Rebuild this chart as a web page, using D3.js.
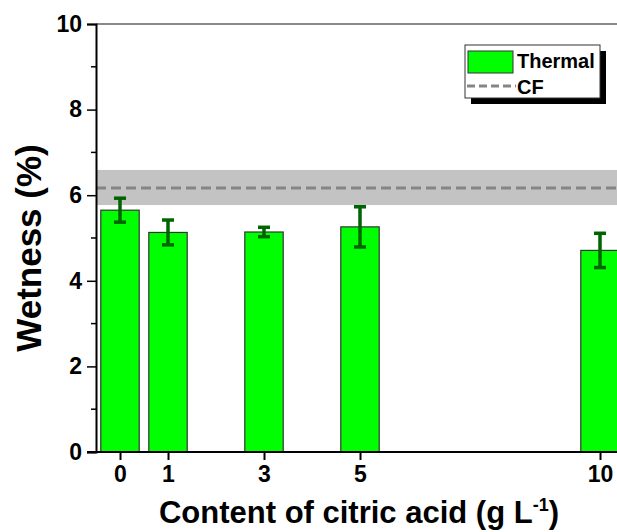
<!DOCTYPE html>
<html>
<head>
<meta charset="utf-8">
<script src="https://cdn.jsdelivr.net/npm/d3@7"></script>
<style>
  body { margin: 0; background: #fff; }
  svg { display: block; font-family: "Liberation Sans", Arial, sans-serif; font-weight: bold; }
</style>
</head>
<body>
<div id="chart"></div>
<script>
// citric acid content (g/L), wetness (%) and its error
const contents = [0, 1, 3, 5, 10]
const wetness = [5.65, 5.13, 5.14, 5.26, 4.71]
const wetnessErr = [0.28, 0.29, 0.11, 0.47, 0.40]
const cfMean = 6.17
const cfBand = [5.77, 6.59]
const xTicks = [0, 1, 3, 5, 10]
const yTicks = [0, 2, 4, 6, 8, 10]
const yMinor = [1, 3, 5, 7, 9]

const W = 617, H = 532
const svg = d3.select("#chart").append("svg")
    .attr("width", W)
    .attr("height", H)

const x = d3.scaleLinear().domain([-0.5, 10.5]).range([96, 624])
const y = d3.scaleLinear().domain([0, 10]).range([452, 24])
const barW = x(0.8) - x(0)

// CF band + mean line
svg.append("rect")
    .attr("x", x(-0.5))
    .attr("y", y(cfBand[1]))
    .attr("width", x(10.5) - x(-0.5))
    .attr("height", y(cfBand[0]) - y(cfBand[1]))
    .attr("fill", "#c3c3c3")
svg.append("line")
    .attr("x1", x(-0.5)).attr("x2", x(10.5))
    .attr("y1", y(cfMean)).attr("y2", y(cfMean))
    .attr("stroke", "#858585")
    .attr("stroke-width", 3)
    .attr("stroke-dasharray", "10,5")

// top frame line
svg.append("line")
    .attr("x1", x(-0.5)).attr("x2", x(10.5))
    .attr("y1", y(10)).attr("y2", y(10))
    .attr("stroke", "#8a8a8a")
    .attr("stroke-width", 2)

// bars
svg.append("g").selectAll("rect")
    .data(contents)
    .join("rect")
    .attr("x", (d, i) => x(d) - barW / 2)
    .attr("y", (d, i) => y(wetness[i]))
    .attr("width", barW)
    .attr("height", (d, i) => y(0) - y(wetness[i]))
    .attr("fill", "#00ff00")
    .attr("stroke", "#333")
    .attr("stroke-width", 1.2)

// error bars
const err = svg.append("g")
    .attr("stroke", "#006400")
    .attr("stroke-width", 3.5)
contents.forEach((d, i) => {
    const lo = y(wetness[i] - wetnessErr[i]), hi = y(wetness[i] + wetnessErr[i])
    err.append("line").attr("x1", x(d)).attr("x2", x(d)).attr("y1", lo).attr("y2", hi)
    err.append("line").attr("x1", x(d) - 6).attr("x2", x(d) + 6).attr("y1", lo).attr("y2", lo)
    err.append("line").attr("x1", x(d) - 6).attr("x2", x(d) + 6).attr("y1", hi).attr("y2", hi)
})

// y axis
const yAxis = svg.append("g")
    .attr("transform", "translate(" + x(-0.5) + ",0)")
    .call(d3.axisLeft(y).tickValues(yTicks).tickSize(9).tickPadding(5))
yAxis.select(".domain").attr("stroke-width", 2)
yAxis.selectAll(".tick line").attr("stroke-width", 1.5)
yAxis.selectAll(".tick text")
    .attr("font-size", 23).attr("font-weight", "bold").attr("fill", "#000")
yAxis.selectAll(".minor")
    .data(yMinor)
    .join("line")
    .attr("class", "minor")
    .attr("x1", -5).attr("x2", 0)
    .attr("y1", d => y(d)).attr("y2", d => y(d))
    .attr("stroke", "#000")
    .attr("stroke-width", 1.5)

// x axis
const xAxis = svg.append("g")
    .attr("transform", "translate(0," + y(0) + ")")
    .call(d3.axisBottom(x).tickValues(xTicks).tickSize(8).tickPadding(6))
xAxis.select(".domain").attr("d", "M" + (x(-0.5) - 9) + ",0H" + x(10.5)).attr("stroke-width", 2)
xAxis.selectAll(".tick line").attr("stroke-width", 2)
xAxis.selectAll(".tick text")
    .attr("font-size", 23).attr("font-weight", "bold").attr("fill", "#000")

// axis titles
const xt = svg.append("text")
    .attr("x", 359)
    .attr("y", 523)
    .attr("text-anchor", "middle")
    .style("font-size", "31px")
xt.append("tspan").text("Content of citric acid (g L")
xt.append("tspan").attr("dy", -12).style("font-size", "18px").text("-1")
xt.append("tspan").attr("dy", 12).text(")")

svg.append("text")
    .attr("transform", "translate(41,248) rotate(-90)")
    .attr("text-anchor", "middle")
    .style("font-size", "35px")
    .text("Wetness (%)")

// legend
const lg = svg.append("g")
lg.append("rect").attr("x", 471).attr("y", 51).attr("width", 135).attr("height", 53).attr("fill", "#000")
lg.append("rect").attr("x", 465).attr("y", 45).attr("width", 135).attr("height", 53)
    .attr("fill", "#fff").attr("stroke", "#333").attr("stroke-width", 1)
lg.append("rect").attr("x", 468).attr("y", 51).attr("width", 45).attr("height", 22)
    .attr("fill", "#00ff00").attr("stroke", "#333").attr("stroke-width", 1)
lg.append("text").attr("x", 517).attr("y", 68).style("font-size", "20px").text("Thermal")
lg.append("line").attr("x1", 467).attr("x2", 516).attr("y1", 86).attr("y2", 86)
    .attr("stroke", "#858585").attr("stroke-width", 3).attr("stroke-dasharray", "8,4")
lg.append("text").attr("x", 517).attr("y", 94).style("font-size", "20px").text("CF")
</script>
</body>
</html>
